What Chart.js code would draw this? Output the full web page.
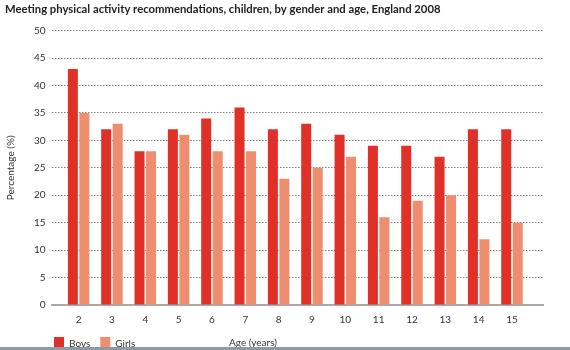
<!DOCTYPE html>
<html>
<head>
<meta charset="utf-8">
<script src="https://cdn.jsdelivr.net/npm/chart.js@4"></script>
<style>
  html, body { margin: 0; padding: 0; background: #fff; }
  #wrap { position: relative; width: 570px; height: 350px; overflow: hidden; }
  #bottomLine { position: absolute; left: 0; top: 347px; width: 570px; height: 3px; background: #8d9ba6; }
</style>
</head>
<body>
<div id="wrap">
  <canvas id="activityChart"></canvas>
  <div id="bottomLine"></div>
</div>
<script>
const ages = [2, 3, 4, 5, 6, 7, 8, 9, 10, 11, 12, 13, 14, 15];
const boys = [43, 32, 28, 32, 34, 36, 32, 33, 31, 29, 29, 27, 32, 32];
const girls = [35, 33, 28, 31, 28, 28, 23, 25, 27, 16, 19, 20, 12, 15];

const boysColor = 'rgb(224, 48, 40)';
const girlsColor = 'rgb(238, 142, 110)';
const fontName = "Lato, 'Open Sans', sans-serif";

const toPoints = (values) => values.map((v, i) => ({ x: ages[i], y: v }));

// x-axis title sits on the legend row, left of centre; legend nudged right
const ageTitle = {
  id: 'ageTitle',
  afterLayout(chart) {
    chart.legend.left += 39;
  },
  afterDraw(chart) {
    const ctx = chart.ctx;
    ctx.save();
    ctx.font = '10px ' + fontName;
    ctx.fillStyle = '#333';
    ctx.textAlign = 'center';
    ctx.textBaseline = 'middle';
    ctx.fillText('Age (years)', 253, 343);
    ctx.restore();
  }
};

const config = {
  type: 'bar',
  data: {
    datasets: [
      { label: 'Boys', data: toPoints(boys), backgroundColor: boysColor },
      { label: 'Girls', data: toPoints(girls), backgroundColor: girlsColor }
    ]
  },
  options: {
    responsive: true,
    maintainAspectRatio: false,
    animation: false,
    layout: { padding: { left: 5, right: 27, top: 0, bottom: -11 } },
    categoryPercentage: 0.69,
    barPercentage: 0.87,
    scales: {
      x: {
        type: 'linear',
        offset: false,
        min: 1.19,
        max: 15.93,
        afterBuildTicks: (scale) => { scale.ticks = ages.map(v => ({ value: v })); },
        grid: { display: false },
        border: { color: '#a9a9a9', width: 2 },
        ticks: { color: '#333', font: { family: fontName, size: 10 }, padding: 1 }
      },
      y: {
        min: 0,
        max: 50,
        ticks: { stepSize: 5, color: '#333', font: { family: fontName, size: 10 }, padding: 6 },
        grid: { color: '#808080', lineWidth: 1, drawTicks: false },
        border: { display: false, dash: [1.5, 1.5] },
        title: { display: true, text: 'Percentage (%)', color: '#333', font: { family: fontName, size: 10 }, padding: { top: 0, bottom: 11 } }
      }
    },
    plugins: {
      title: {
        display: true,
        text: 'Meeting physical activity recommendations, children, by gender and age, England 2008',
        align: 'start',
        color: '#222',
        font: { family: fontName, size: 11.3, weight: 'bold' },
        padding: { top: 3, bottom: 14 }
      },
      legend: {
        position: 'bottom',
        align: 'start',
        labels: { boxWidth: 10, boxHeight: 14, color: '#333', font: { family: fontName, size: 10 }, padding: 10 }
      },
      tooltip: { enabled: false }
    }
  },
  plugins: [ageTitle]
};

document.addEventListener('DOMContentLoaded', () => {
  const activityChart = new Chart(document.getElementById('activityChart'), config);
});
</script>
</body>
</html>
